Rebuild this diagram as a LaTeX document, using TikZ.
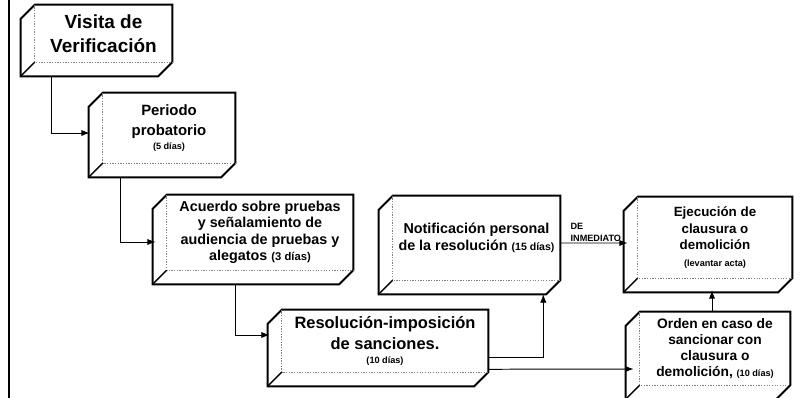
\documentclass[tikz,border=0pt]{standalone}
\usepackage{fontspec}
\setmainfont{Liberation Sans}
\usetikzlibrary{positioning,arrows.meta}
\tikzset{caja/.style={inner sep=0pt,align=center},
  borde/.style={line width=1.4pt,line join=miter},
  cara/.style={gray,densely dotted,line width=0.9pt},
  flecha/.style={line width=0.7pt,-{Latex[length=6pt,width=4.5pt]}},
  etiq/.style={font=\bfseries\fontsize{6.5}{8}\selectfont,align=left,inner sep=0pt}}
% fondo de la caja: caras lateral e inferior
\newcommand{\profundidad}[1]{%
  \draw[borde] (#1.north west) -- (#1.north east) -- (#1.south east) -- ++(-14,14)
    -- ([shift={(-14,14)}]#1.south west) -- ([shift={(-14,14)}]#1.north west) -- cycle;
  \draw[cara] (#1.north west) -- (#1.south west) -- (#1.south east);
  \draw[line width=1pt] (#1.south west) -- ++(-14,14);}

\begin{document}
\begin{tikzpicture}[x=0.025cm,y=-0.025cm]
    \useasboundingbox (0,0) rectangle (804,398);
    \draw[line width=1.5pt] (9,0) -- (9,398);

    \node[caja,minimum width=3.425cm,minimum height=1.425cm,font=\bfseries\fontsize{13.5}{17}\selectfont] (visita) at (103.5,33.5) {Visita de\\Verificación};
    \node[caja,minimum width=3.3cm,minimum height=1.75cm,font=\bfseries\fontsize{10.6}{14}\selectfont] (periodo) at (169,128) {Periodo\\probatorio\\[-4pt]{\fontsize{6.5}{8}\selectfont (5 días)}};
    \node[caja,minimum width=4.65cm,minimum height=1.875cm,font=\bfseries\fontsize{10.2}{11.7}\selectfont] (acuerdo) at (260,232.5) {Acuerdo sobre pruebas\\y señalamiento de\\audiencia de pruebas y\\alegatos {\fontsize{8}{9}\selectfont(3 días)}};
    \node[caja,minimum width=5.15cm,minimum height=1.55cm,font=\bfseries\fontsize{11.7}{15}\selectfont] (resolucion) at (385,341) {Resolución-imposición\\de sanciones.\\[-5pt]{\fontsize{6.5}{8}\selectfont (10 días)}};
    \node[caja,minimum width=4.175cm,minimum height=2.1cm,font=\bfseries\fontsize{10.2}{12}\selectfont] (notificacion) at (476.5,238) {Notificación personal\\de la resolución {\fontsize{7.5}{9}\selectfont(15 días)}};
    \node[caja,minimum width=3.85cm,minimum height=2.025cm,font=\bfseries\fontsize{9.5}{11.7}\selectfont] (ejecucion) at (715,237.5) {Ejecución de\\clausura o\\demolición\\{\fontsize{6.5}{8}\selectfont (levantar acta)}};
    \node[caja,minimum width=3.75cm,minimum height=1.825cm,font=\bfseries\fontsize{9.8}{11.2}\selectfont] (orden) at (715,348.5) {Orden en caso de\\sancionar con\\clausura o\\demolición, {\fontsize{6.5}{8}\selectfont(10 días)}};

    \profundidad{visita}
    \profundidad{periodo}
    \profundidad{acuerdo}
    \profundidad{resolucion}
    \profundidad{notificacion}
    \profundidad{ejecucion}
    \profundidad{orden}

    \draw[flecha] ([shift={(17,14)}]visita.south west) |- ([shift={(-13,5)}]periodo.west);
    \draw[flecha] ([shift={(18,14)}]periodo.south west) |- ([shift={(-11,9.5)}]acuerdo.west);
    \draw[flecha] ([shift={(69,14)}]acuerdo.south west) |- ([shift={(-12,-6)}]resolucion.west);
    \draw[flecha,line width=0.5pt] ([shift={(0,16)}]resolucion.east) -| ([shift={(-17,14)}]notificacion.south east);
    \draw[flecha] ([shift={(0,-3)}]resolucion.south east) -- ([shift={(-6,20.5)}]orden.west);
    \draw[flecha] ([shift={(-3,0)}]orden.north) -- ([shift={(-3,12)}]ejecucion.south);
    \draw[flecha] ([shift={(0,5)}]notificacion.east) -- ([shift={(-10,5.5)}]ejecucion.west)
      node[etiq,pos=0,anchor=south west,xshift=7pt,yshift=1pt] (inmediato) {DE\\INMEDIATO};
\end{tikzpicture}
\end{document}
